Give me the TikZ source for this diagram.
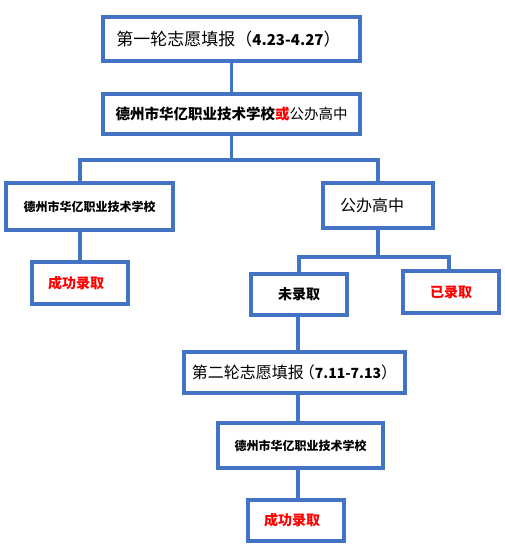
\documentclass[tikz,border=0pt]{standalone}
\usepackage{fontspec}
\setmainfont{Carlito}
\newfontfamily\cjk{Noto Sans CJK SC}
\definecolor{fb}{HTML}{4472C4}
\definecolor{tr}{HTML}{FF0000}
\newcommand{\fs}[1]{\fontsize{#1}{#1}\selectfont}
\begin{document}
\begin{tikzpicture}[x=1pt,y=-1pt,
  box/.style={draw=fb,line width=3.3pt,fill=white,inner sep=0pt,align=center,line join=miter},
  conn/.style={draw=fb,line width=3.3pt}]
\useasboundingbox (0,0) rectangle (505,551);
\node[box,minimum width=257pt,minimum height=44pt] (b1) at (231.5,39)
  {\cjk\fs{17}第一轮志愿填报（\textbf{\fs{15}4.23-4.27}）\hspace*{6pt}};
\node[box,minimum width=257pt,minimum height=40pt] (b2) at (231.5,114)
  {\cjk\fs{14.5}\textbf{德州市华亿职业技术学校}\textcolor{tr}{\textbf{或}}公办高中};
\node[box,minimum width=167pt,minimum height=47pt] (b3) at (89.5,206.5)
  {\cjk\fs{12}\textbf{德州市华亿职业技术学校}};
\node[box,minimum width=110pt,minimum height=45pt] (b4) at (378,205.5)
  {\cjk\fs{16}公办高中\hspace*{12pt}};
\node[box,minimum width=96pt,minimum height=42pt] (b5) at (80,283)
  {\cjk\fs{14}\textcolor{tr}{\textbf{成功录取}}\hspace*{8pt}};
\node[box,minimum width=96pt,minimum height=41pt] (b6) at (299,294.5)
  {\cjk\fs{14}\textbf{未录取}};
\node[box,minimum width=96pt,minimum height=42pt] (b7) at (451,292)
  {\cjk\fs{14}\textcolor{tr}{\textbf{已录取}}};
\node[box,minimum width=221pt,minimum height=41pt] (b8) at (294.5,372.5)
  {\cjk\fs{16}第二轮志愿填报\kern-5pt（\textbf{\fs{14}7.11-7.13}）};
\node[box,minimum width=165pt,minimum height=45pt] (b9) at (300.5,445.5)
  {\cjk\fs{12}\textbf{德州市华亿职业技术学校}};
\node[box,minimum width=96pt,minimum height=41pt] (b10) at (296,520.5)
  {\cjk\fs{14}\textcolor{tr}{\textbf{成功录取}}\hspace*{8pt}};
% junction coordinates
\coordinate (j1) at (231.5,160);
\coordinate (l1) at (80,160);
\coordinate (j2) at (378,257);
\coordinate (l2) at (299,257);
\coordinate (r2) at (449,257);
\coordinate (t) at (298,0);
% connectors
\draw[conn] (b1.south) -- (b2.north);
\draw[conn] (b2.south) -- (j1);
\draw[conn,line cap=rect] (l1) -- (j1 -| b4.north);
\draw[conn] (l1) -- (l1 |- b3.north);
\draw[conn] (j1 -| b4.north) -- (b4.north);
\draw[conn] (l1 |- b3.south) -- (l1 |- b5.north);
\draw[conn] (b4.south) -- (j2);
\draw[conn,line cap=rect] (l2) -- (r2);
\draw[conn] (l2) -- (l2 |- b6.north);
\draw[conn] (r2) -- (r2 |- b7.north);
\draw[conn] (t |- b6.south) -- (t |- b8.north);
\draw[conn] (t |- b8.south) -- (t |- b9.north);
\draw[conn] (t |- b9.south) -- (t |- b10.north);
\end{tikzpicture}
\end{document}
